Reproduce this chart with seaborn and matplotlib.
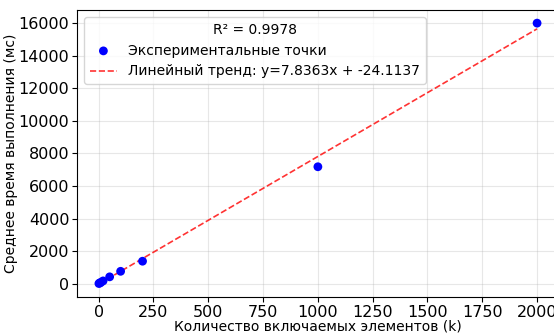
import numpy as np
import pandas as pd
import matplotlib
matplotlib.use("Agg")
import matplotlib.pyplot as plt
import seaborn as sns

# measured data
k_values = [1, 5, 10, 20, 50, 100, 200, 1000, 2000]
avg_time_ms = [10, 45, 80, 170, 420, 760, 1380, 7180, 16000]

# trend coefficients as shown in the chart
slope = 7.8363
intercept = -24.1137
r_squared = 0.9978

df = pd.DataFrame({"k": k_values, "time": avg_time_ms})

fig = plt.figure(figsize=(5.54, 3.34), dpi=100)
ax = fig.add_axes([0.139, 0.1108, 0.870, 0.859])

sns.scatterplot(data=df, x="k", y="time", ax=ax, color="blue", s=40,
                edgecolor="none", label="Экспериментальные точки", zorder=3)

x_line = np.array([min(k_values), max(k_values)])
y_line = slope * x_line + intercept
ax.plot(x_line, y_line, "r--", alpha=0.8, linewidth=1.2,
        label=f"Линейный тренд: y={slope:.4f}x + {intercept:.4f}")

ax.set_xlabel("Количество включаемых элементов (k)", fontsize=10, labelpad=0)
ax.set_ylabel("Среднее время выполнения (мс)", fontsize=10)
ax.yaxis.set_label_coords(-0.122, 0.5)
ax.tick_params(labelsize=11.5, pad=2)
ax.set_xticks(range(0, 2001, 250))
ax.set_yticks(range(0, 16001, 2000))
ax.grid(True, alpha=0.3)
ax.legend(title=f"R² = {r_squared:.4f}", loc="upper left",
          fontsize=10, title_fontsize=10)

fig.savefig("out.png", dpi=100)
